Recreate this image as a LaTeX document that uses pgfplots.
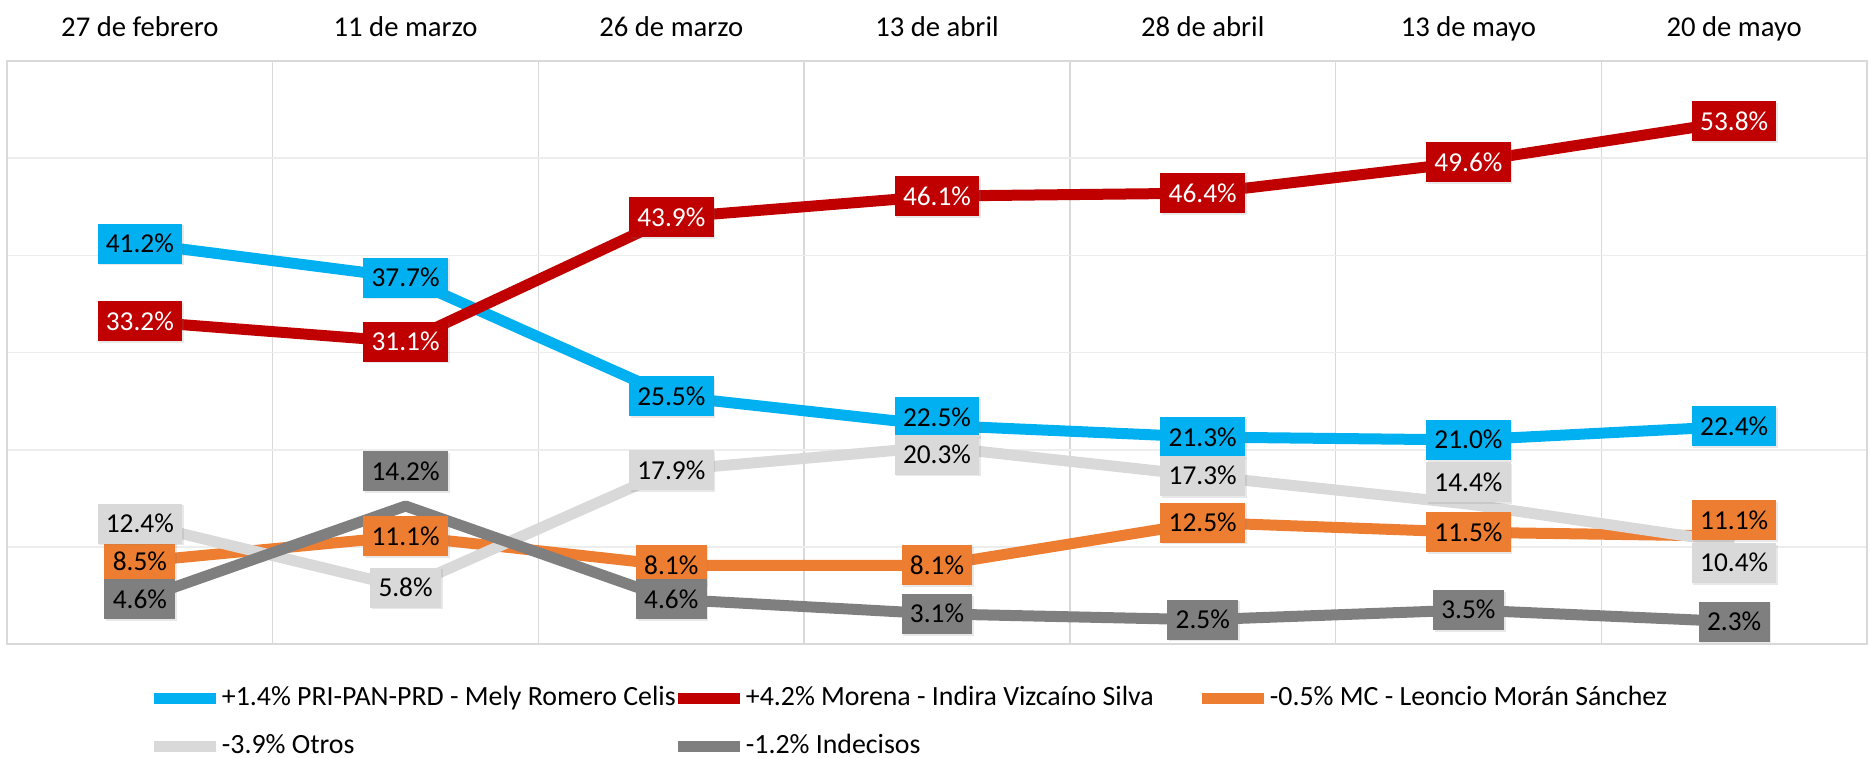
\documentclass[border=0pt]{standalone}
\usepackage{fontspec}
\setmainfont{Carlito}
\usepackage{pgfplots}
\usepackage{pgfplotstable}
\pgfplotsset{compat=1.18}
\usetikzlibrary{shadows}
\definecolor{cpri}{HTML}{00B0F0}
\definecolor{cmor}{HTML}{C00000}
\definecolor{cmc}{HTML}{ED7D31}
\definecolor{cotr}{HTML}{D9D9D9}
\definecolor{cind}{HTML}{7F7F7F}
\definecolor{vgrid}{HTML}{D9D9D9}
\definecolor{hgrid}{HTML}{EDEDED}

% offsets (d...) are label shifts in pt
\pgfplotstableread{
x pri  mor  mc   otr  ind  dpri dmor dmc dotr dind
0 41.2 33.2 8.5  12.4 4.6  0    0    0   0    0
1 37.7 31.1 11.1 5.8  14.2 0    0    0   0    10.5
2 25.5 43.9 8.1  17.9 4.6  0    0    0   0    0
3 22.5 46.1 8.1  20.3 3.1  2.4  0    0   -2.4 0
4 21.3 46.4 12.5 17.3 2.5  0    0    0   0    0
5 21.0 49.6 11.5 14.4 3.5  0    0    0   6.6  0
6 22.4 53.8 11.1 10.4 2.3  0    0    4.8 -6.0 0
}\data

\pgfplotsset{
  lbl/.style 2 args={draw=none, mark=none, forget plot,
    point meta=explicit symbolic,
    nodes near coords={\pgfplotspointmeta\%},
    visualization depends on={\thisrow{#1} \as \dy},
    every node near coord/.append style={fill=#2, anchor=center,
      font=\fontsize{8.2}{9}\selectfont, inner xsep=2.5pt, inner ysep=0pt,
      minimum height=12pt, text height=5.6pt, text depth=0.2pt,
      yshift=\dy pt,
      drop shadow={opacity=0.18, shadow xshift=0.5pt, shadow yshift=-0.5pt}}},
  ln/.style={line width=3.3pt, line join=round, mark=none},
}

\begin{document}
\begin{tikzpicture}
\useasboundingbox (-2.1pt,-33.9pt) rectangle (558.9pt,193.2pt);
\begin{axis}[
  at={(0pt,0pt)}, anchor=south west,
  scale only axis, width=558pt, height=174.9pt,
  xmin=-0.5, xmax=6.5, ymin=0, ymax=60,
  clip=false,
  xtick={0,...,6},
  xticklabels={27 de febrero, 11 de marzo, 26 de marzo, 13 de abril, 28 de abril, 13 de mayo, 20 de mayo},
  xticklabel pos=upper,
  x tick label style={anchor=base, yshift=7.5pt, font=\fontsize{8.6}{10}\selectfont},
  ytick={10,20,...,50}, yticklabels={},
  minor xtick={0.5,1.5,...,5.5},
  xmajorgrids=false, xminorgrids=true, ymajorgrids=true,
  major grid style={draw=hgrid, line width=0.5pt},
  minor grid style={draw=vgrid, line width=0.45pt},
  major tick length=0pt, minor tick length=0pt,
  axis line style={draw=vgrid, line width=0.5pt},
  legend columns=3,
  legend cell align=left,
  legend style={at={(0.0763,-0.0515)}, anchor=north west, draw=none, fill=none,
    inner sep=0pt, outer sep=0pt, row sep=0pt, column sep=0pt,
    font=\fontsize{8.35}{9}\selectfont,
    nodes={inner xsep=0pt, inner ysep=0pt, minimum height=14.4pt}},
  legend image code/.code={
    \draw[#1, line width=3.3pt, line cap=round] (1.65pt,0pt) -- (16.35pt,0pt);
    \path (0pt,0pt) -- (18.6pt,0pt);},
]
\addplot[ln, cpri] table[x=x, y=pri] {\data};
\addlegendentry{\makebox[135.3pt][l]{+1.4\% PRI-PAN-PRD - Mely Romero Celis}}
\addplot[ln, cmor] table[x=x, y=mor] {\data};
\addlegendentry{\makebox[135.3pt][l]{+4.2\% Morena - Indira Vizcaíno Silva}}
\addplot[ln, cmc] table[x=x, y=mc] {\data};
\addlegendentry{\makebox[135.3pt][l]{-0.5\% MC - Leoncio Morán Sánchez}}
\addplot[ln, cotr] table[x=x, y=otr] {\data};
\addlegendentry{\makebox[135.3pt][l]{-3.9\% Otros}}
\addplot[ln, cind] table[x=x, y=ind] {\data};
\addlegendentry{\makebox[135.3pt][l]{-1.2\% Indecisos}}

\addplot[lbl={dpri}{cpri}, nodes near coords style={text=black}] table[x=x, y=pri, meta=pri] {\data};
\addplot[lbl={dmor}{cmor}, nodes near coords style={text=white}] table[x=x, y=mor, meta=mor] {\data};
\addplot[lbl={dmc}{cmc}, nodes near coords style={text=black}] table[x=x, y=mc, meta=mc] {\data};
\addplot[lbl={dotr}{cotr}, nodes near coords style={text=black}] table[x=x, y=otr, meta=otr] {\data};
\addplot[lbl={dind}{cind}, nodes near coords style={text=black}] table[x=x, y=ind, meta=ind] {\data};
\end{axis}
\end{tikzpicture}
\end{document}
